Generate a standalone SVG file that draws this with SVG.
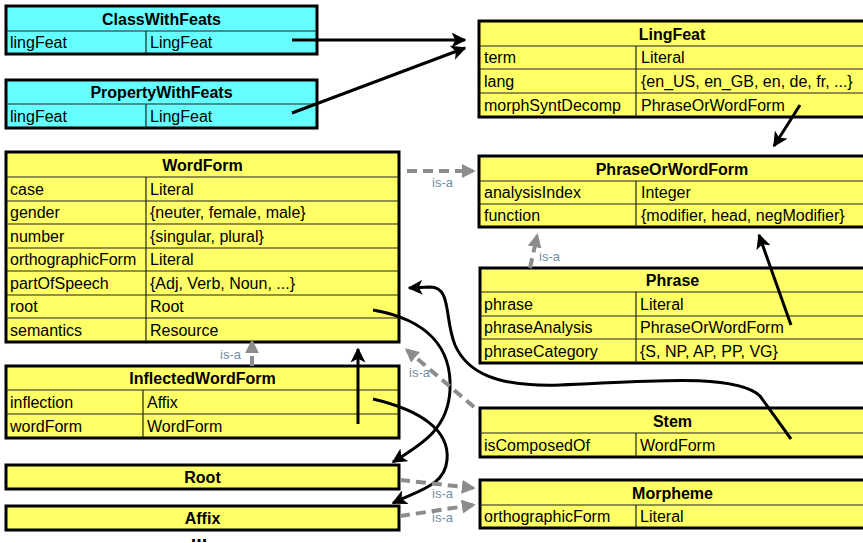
<svg xmlns="http://www.w3.org/2000/svg" width="863" height="543" viewBox="0 0 863 543">
<style>
.box{stroke:#000;stroke-width:3}
.cyan{fill:#66ffff}
.yel{fill:#ffff66}
.sep{stroke:#222;stroke-width:1.2}
text{font-family:"Liberation Sans",Arial,Helvetica,sans-serif;font-size:16px;fill:#000}
.h{font-weight:bold;text-anchor:middle}
.isa{font-size:13px;fill:#6f8ea3}
.ref{fill:none;stroke:#000;stroke-width:3}
.inh{fill:none;stroke:#8c8c8c;stroke-width:4;stroke-dasharray:10 6}
</style>
<defs>
<marker id="ab" viewBox="0 0 10 10" refX="9" refY="5" markerWidth="5" markerHeight="5" orient="auto" markerUnits="strokeWidth">
<path d="M0,0 L10,5 L0,10 L2.5,5 Z" fill="#000"/>
</marker>
<marker id="ag" viewBox="0 0 10 10" refX="8" refY="5" markerWidth="3.5" markerHeight="3.5" orient="auto" markerUnits="strokeWidth">
<path d="M0,0 L10,5 L0,10 Z" fill="#8c8c8c"/>
</marker>
</defs>
<rect width="863" height="543" fill="#fff"/>

<g id="ClassWithFeats">
<rect class="box cyan" x="6" y="6" width="311" height="48"/>
<line class="sep" x1="6" y1="31" x2="317" y2="31"/>
<line class="sep" x1="146" y1="31" x2="146" y2="54"/>
<text class="h" x="161.5" y="25">ClassWithFeats</text>
<text x="10" y="48">lingFeat</text><text x="150" y="48">LingFeat</text>
</g>

<g id="PropertyWithFeats">
<rect class="box cyan" x="6" y="80" width="311" height="48"/>
<line class="sep" x1="6" y1="104" x2="317" y2="104"/>
<line class="sep" x1="146" y1="104" x2="146" y2="128"/>
<text class="h" x="161.5" y="98">PropertyWithFeats</text>
<text x="10" y="122">lingFeat</text><text x="150" y="122">LingFeat</text>
</g>

<g id="LingFeat">
<rect class="box yel" x="479" y="21" width="386" height="96"/>
<line class="sep" x1="479" y1="46" x2="865" y2="46"/>
<line class="sep" x1="479" y1="69" x2="865" y2="69"/>
<line class="sep" x1="479" y1="93" x2="865" y2="93"/>
<line class="sep" x1="636" y1="46" x2="636" y2="117"/>
<text class="h" x="672" y="40">LingFeat</text>
<text x="484" y="63">term</text><text x="641" y="63">Literal</text>
<text x="484" y="87">lang</text><text x="641" y="87">{en_US, en_GB, en, de, fr, ...}</text>
<text x="484" y="111">morphSyntDecomp</text><text x="641" y="111">PhraseOrWordForm</text>
</g>

<g id="PhraseOrWordForm">
<rect class="box yel" x="479" y="156" width="386" height="71"/>
<line class="sep" x1="479" y1="181" x2="865" y2="181"/>
<line class="sep" x1="479" y1="204" x2="865" y2="204"/>
<line class="sep" x1="636" y1="181" x2="636" y2="227"/>
<text class="h" x="672" y="175">PhraseOrWordForm</text>
<text x="484" y="198">analysisIndex</text><text x="641" y="198">Integer</text>
<text x="484" y="221">function</text><text x="641" y="221">{modifier, head, negModifier}</text>
</g>

<g id="WordForm">
<rect class="box yel" x="6" y="152" width="393" height="190"/>
<line class="sep" x1="6" y1="177" x2="399" y2="177"/>
<line class="sep" x1="6" y1="201" x2="399" y2="201"/>
<line class="sep" x1="6" y1="224" x2="399" y2="224"/>
<line class="sep" x1="6" y1="248" x2="399" y2="248"/>
<line class="sep" x1="6" y1="271" x2="399" y2="271"/>
<line class="sep" x1="6" y1="295" x2="399" y2="295"/>
<line class="sep" x1="6" y1="318" x2="399" y2="318"/>
<line class="sep" x1="146" y1="177" x2="146" y2="342"/>
<text class="h" x="202.5" y="171">WordForm</text>
<text x="10" y="195">case</text><text x="150" y="195">Literal</text>
<text x="10" y="218">gender</text><text x="150" y="218">{neuter, female, male}</text>
<text x="10" y="242">number</text><text x="150" y="242">{singular, plural}</text>
<text x="10" y="265">orthographicForm</text><text x="150" y="265">Literal</text>
<text x="10" y="289">partOfSpeech</text><text x="150" y="289">{Adj, Verb, Noun, ...}</text>
<text x="10" y="312">root</text><text x="150" y="312">Root</text>
<text x="10" y="336">semantics</text><text x="150" y="336">Resource</text>
</g>

<g id="InflectedWordForm">
<rect class="box yel" x="6" y="366" width="393" height="72"/>
<line class="sep" x1="6" y1="390" x2="399" y2="390"/>
<line class="sep" x1="6" y1="414" x2="399" y2="414"/>
<line class="sep" x1="143" y1="390" x2="143" y2="438"/>
<text class="h" x="202.5" y="384">InflectedWordForm</text>
<text x="10" y="408">inflection</text><text x="147" y="408">Affix</text>
<text x="10" y="432">wordForm</text><text x="147" y="432">WordForm</text>
</g>

<g id="Root">
<rect class="box yel" x="6" y="465" width="393" height="24"/>
<text class="h" x="202.5" y="483">Root</text>
</g>

<g id="Affix">
<rect class="box yel" x="6" y="506" width="393" height="24"/>
<text class="h" x="202.5" y="524">Affix</text>
</g>

<g id="Phrase">
<rect class="box yel" x="480" y="268" width="385" height="95"/>
<line class="sep" x1="480" y1="292" x2="865" y2="292"/>
<line class="sep" x1="480" y1="316" x2="865" y2="316"/>
<line class="sep" x1="480" y1="339" x2="865" y2="339"/>
<line class="sep" x1="636" y1="292" x2="636" y2="363"/>
<text class="h" x="672.5" y="286">Phrase</text>
<text x="484" y="310">phrase</text><text x="640" y="310">Literal</text>
<text x="484" y="333">phraseAnalysis</text><text x="640" y="333">PhraseOrWordForm</text>
<text x="484" y="357">phraseCategory</text><text x="640" y="357">{S, NP, AP, PP, VG}</text>
</g>

<g id="Stem">
<rect class="box yel" x="480" y="408" width="385" height="49"/>
<line class="sep" x1="480" y1="433" x2="865" y2="433"/>
<line class="sep" x1="636" y1="433" x2="636" y2="457"/>
<text class="h" x="672.5" y="427">Stem</text>
<text x="484" y="451">isComposedOf</text><text x="640" y="451">WordForm</text>
</g>

<g id="Morpheme">
<rect class="box yel" x="480" y="480" width="385" height="48"/>
<line class="sep" x1="480" y1="505" x2="865" y2="505"/>
<line class="sep" x1="636" y1="505" x2="636" y2="528"/>
<text class="h" x="672.5" y="499">Morpheme</text>
<text x="484" y="522">orthographicForm</text><text x="640" y="522">Literal</text>
</g>

<text class="h" x="199" y="542" style="font-size:20px">...</text>

<g id="connectors">
<path class="ref" marker-end="url(#ab)" d="M292,40 L465,40"/>
<path class="ref" marker-end="url(#ab)" d="M292,113 L465,48"/>
<path class="ref" marker-end="url(#ab)" d="M800,105 L774,146"/>
<path class="ref" marker-end="url(#ab)" d="M791,325 L759,235"/>
<path class="ref" marker-end="url(#ab)" d="M791,439 L760,396 C735,372 640,382 560,385 C495,387 467,372 455,345 C444,318 452,287 430,287 L409,288"/>
<path class="ref" marker-end="url(#ab)" d="M373,310 C430,320 452,350 450,390 C448,430 420,445 393,462"/>
<path class="ref" marker-end="url(#ab)" d="M373,399 C420,410 450,430 447,460 C445,485 420,490 393,503"/>
<path class="ref" marker-end="url(#ab)" d="M358,424 L358,349"/>

<path class="inh" marker-end="url(#ag)" d="M407,171 L473,171"/>
<path class="inh" marker-end="url(#ag)" d="M530,268 L537,236"/>
<path class="inh" marker-end="url(#ag)" d="M252,366 L252,342"/>
<path class="inh" marker-end="url(#ag)" d="M474,407 L407,350"/>
<path class="inh" marker-end="url(#ag)" d="M400,480 L473,488"/>
<path class="inh" marker-end="url(#ag)" d="M400,516 L473,505"/>

<text class="isa" x="432" y="187">is-a</text>
<text class="isa" x="539" y="261">is-a</text>
<text class="isa" x="220" y="359">is-a</text>
<text class="isa" x="409" y="377">is-a</text>
<text class="isa" x="432" y="498">is-a</text>
<text class="isa" x="432" y="522">is-a</text>
</g>
</svg>
